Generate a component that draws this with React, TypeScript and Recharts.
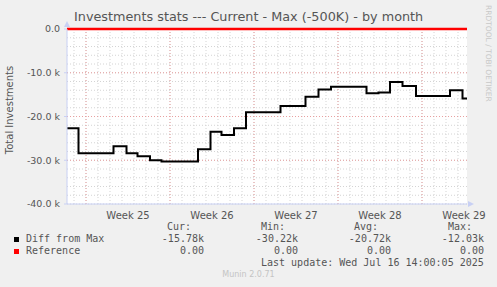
import {
  LineChart,
  Line,
  XAxis,
  YAxis,
  CartesianGrid,
  ReferenceLine,
  ReferenceDot,
} from "recharts";

// hours since the left edge of the graph (2 hours per pixel, 800 h shown)
const hours = [0, 23, 93, 119, 141, 166, 189, 262, 287, 309, 334, 358, 427, 477, 503, 528, 599, 623, 646, 671, 698, 766, 791, 800];
// Diff from Max, in units
const diffFromMax = [
  -22700, -28400, -26800, -28400, -29100, -30000, -30300, -27500, -23500, -24200, -22700, -19000,
  -17600, -15500, -13800, -13200, -14700, -14500, -12100, -13000, -15300, -14000, -15900, -15900,
];
const reference = hours.map(() => 0);

const weekLabels = ["Week 25", "Week 26", "Week 27", "Week 28", "Week 29"];
const weekStarts = [38, 206, 374, 542, 710];
const weekCenters = weekStarts.map((w) => w + 84);
const dayLines = Array.from({ length: 33 }, (_, i) => 14 + i * 24);
const yTicks = [0, -10000, -20000, -30000, -40000];
const yMinor = Array.from({ length: 21 }, (_, i) => -i * 2000);

const legendRows = [
  { name: "Diff from Max", color: "#000000", cur: "-15.78k", min: "-30.22k", avg: "-20.72k", max: "-12.03k" },
  { name: "Reference", color: "#ff0000", cur: "0.00", min: "0.00", avg: "0.00", max: "0.00" },
];

const data = hours.map((h, i) => ({ h, diff: diffFromMax[i], ref: reference[i] }));

const TEXT = "#555555";
const AXIS = "#c8d0f4";
const MONO = "'DejaVu Sans Mono', monospace";
const SANS = "'DejaVu Sans', sans-serif";

const fmtY = (v: number) => (v === 0 ? "0.0" : `${(v / 1000).toFixed(1)} k`);

export default function App() {
  const mono: React.CSSProperties = { position: "absolute", fontFamily: MONO, fontSize: 10, color: TEXT, whiteSpace: "pre" };
  const cols = [162, 256, 349, 442];
  return (
    <div style={{ position: "absolute", left: 0, top: 0, width: 497, height: 287, background: "#f0f0f0", overflow: "hidden" }}>
      <div style={{ position: "absolute", left: 74, top: 11, fontFamily: SANS, fontSize: 12.8, lineHeight: 1, color: TEXT, whiteSpace: "nowrap" }}>
        Investments stats --- Current - Max (-500K) - by month
      </div>
      <div
        style={{
          position: "absolute",
          left: 10,
          top: 110,
          fontFamily: SANS,
          fontSize: 10,
          lineHeight: 1,
          color: TEXT,
          whiteSpace: "nowrap",
          transform: "translate(-50%, -50%) rotate(-90deg)",
        }}
      >
        Total Investments
      </div>
      <div
        style={{
          position: "absolute",
          left: 484,
          top: 5,
          fontFamily: SANS,
          fontSize: 7.5,
          lineHeight: 1,
          color: "#c8c8c8",
          writingMode: "vertical-rl",
          whiteSpace: "nowrap",
        }}
      >
        RRDTOOL / TOBI OETIKER
      </div>
      <div style={{ position: "absolute", left: 0, top: 0 }}>
        <LineChart width={497} height={287} data={data} margin={{ top: 29, right: 30, bottom: 63, left: 7 }}>
          <CartesianGrid
            fill="#ffffff"
            stroke="#d4d4d4"
            strokeDasharray="1 2"
            horizontalValues={yMinor}
            verticalValues={dayLines}
          />
          <XAxis
            dataKey="h"
            type="number"
            domain={[0, 800]}
            ticks={weekCenters}
            tickFormatter={(v: number) => weekLabels[weekCenters.indexOf(v)] ?? ""}
            tickLine={false}
            axisLine={{ stroke: AXIS }}
            tick={{ fontSize: 10, fill: TEXT, fontFamily: SANS }}
            tickMargin={2}
            height={20}
            interval={0}
            allowDataOverflow
          />
          <YAxis
            type="number"
            domain={[-40000, 0]}
            ticks={yTicks}
            tickFormatter={fmtY}
            width={60}
            tickSize={3}
            tickMargin={4}
            tickLine={{ stroke: AXIS }}
            axisLine={{ stroke: AXIS }}
            tick={{ fontSize: 9.5, fill: TEXT, fontFamily: SANS }}
            interval={0}
          />
          {weekStarts.map((w) => (
            <ReferenceLine key={`w${w}`} x={w} stroke="#e8a0a0" strokeDasharray="1 2" />
          ))}
          {yTicks.slice(1, 4).map((t) => (
            <ReferenceLine key={`y${t}`} y={t} stroke="#e8a0a0" strokeDasharray="1 2" />
          ))}
          <Line
            type="stepAfter"
            dataKey="ref"
            stroke="#ff0000"
            strokeWidth={2.5}
            dot={false}
            isAnimationActive={false}
          />
          <Line
            type="stepAfter"
            dataKey="diff"
            stroke="#000000"
            strokeWidth={2}
            dot={false}
            isAnimationActive={false}
          />
          <ReferenceDot
            x={0}
            y={0}
            ifOverflow="visible"
            shape={(p: any) => (
              <polygon points={`${p.cx - 3},${p.cy - 2} ${p.cx + 3},${p.cy - 2} ${p.cx},${p.cy - 8}`} fill={AXIS} />
            )}
          />
          <ReferenceDot
            x={800}
            y={-40000}
            ifOverflow="visible"
            shape={(p: any) => (
              <polygon points={`${p.cx + 1},${p.cy - 3} ${p.cx + 1},${p.cy + 3} ${p.cx + 7},${p.cy}`} fill={AXIS} />
            )}
          />
        </LineChart>
      </div>
      <div style={{ ...mono, left: 167, top: 221 }}>Cur:</div>
      <div style={{ ...mono, left: 261, top: 221 }}>Min:</div>
      <div style={{ ...mono, left: 354, top: 221 }}>Avg:</div>
      <div style={{ ...mono, left: 448, top: 221 }}>Max:</div>
      {legendRows.map((r, i) => {
        const top = 233 + i * 12;
        const vals = [r.cur, r.min, r.avg, r.max];
        return (
          <div key={r.name}>
            <div style={{ position: "absolute", left: 14, top: top + 4, width: 5, height: 5, background: r.color }} />
            <div style={{ ...mono, left: 26, top }}>{r.name}</div>
            {vals.map((v, j) => (
              <div key={j} style={{ ...mono, left: cols[j] + 42, top, transform: "translateX(-100%)" }}>
                {v}
              </div>
            ))}
          </div>
        );
      })}
      <div style={{ ...mono, left: 261, top: 257 }}>Last update: Wed Jul 16 14:00:05 2025</div>
      <div style={{ position: "absolute", left: 0, width: 497, top: 270, textAlign: "center", fontFamily: SANS, fontSize: 8, color: "#c4c4c4" }}>
        Munin 2.0.71
      </div>
    </div>
  );
}
